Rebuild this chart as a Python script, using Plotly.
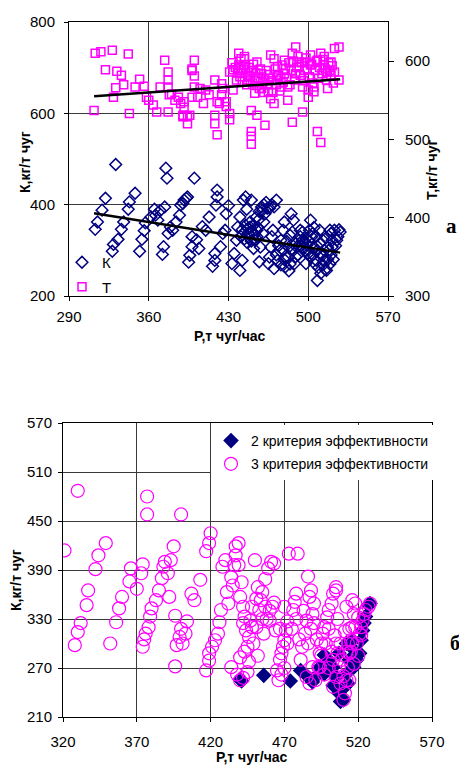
import plotly.graph_objects as go

# ---------------- Chart (a): K and T vs P ----------------
top_K_P = [313,315,319,322,328,329,333,331,336,338,342,343,348,352,354,356,357,362,365,366,368,370,372,373,374,375,376,377,379,381,384,387,388,390,391,393,394,395,396,398,398,400,402,404,407,410,413,416,418,418,419,420,420,423,425,427,428,430,433,435,437,438,440,440,442,443,445,446,447,449,450,452,453,455,456,457,458,460,461,462,464,465,466,467,468,469,470,472,473,475,476,478,479,480,482,483,484,485,487,488,489,490,492,493,495,496,498,500,501,502,504,505,507,508,510,511,513,514,516,517,519,520,521,523,525,527,
           441,442,444,445,446,447,448,449,450,451,452,453,454,455,456,457,459,460,461,463,466,468,487,489,491,493,494,495,496,497,498,499,500,501,502,503,504,505,506,507,508,509,510,511,512,513,514,515,516,517,518,519,520,521,522,524,526,528,470,472,474,476,478,479,481,483,485,486,484]
top_K_val = [346,362,388,414,298,313,324,488,346,362,390,406,425,298,324,343,360,373,390,377,366,387,291,308,395,480,458,337,351,344,362,377,399,403,410,414,417,274,289,330,308,458,323,304,352,344,373,265,278,293,399,417,432,308,337,344,380,398,271,293,322,351,373,256,278,410,417,390,337,351,410,304,322,344,366,275,307,337,362,380,392,271,285,307,330,344,395,410,278,300,322,344,362,264,286,307,333,380,366,271,286,307,322,344,322,304,271,293,344,366,337,307,278,234,344,293,322,278,256,307,344,337,322,344,322,345,
             330,345,325,355,318,348,328,362,320,340,355,335,372,330,350,385,395,388,400,405,392,400,300,315,290,330,310,340,318,298,326,312,300,320,285,330,290,350,270,330,300,262,315,250,288,268,300,258,328,280,300,270,290,308,280,310,330,340,260,290,310,268,300,280,320,255,300,340,270]

top_T_P = [313,318,328,342,322,332,336,338,331,329,312,343,348,352,356,358,360,364,367,374,377,377,377,377,370,378,380,383,386,388,390,390,391,391,394,394,396,398,398,400,400,400,398,403,405,408,410,413,418,418,418,420,420,422,424,424,425,428,428,431,431,431,434,434,437,439,439,439,441,441,444,444,444,447,447,450,450,450,450,450,453,453,455,455,455,459,459,462,462,465,465,467,467,470,470,473,473,476,476,479,479,482,482,486,486,489,489,492,492,495,495,497,497,500,500,502,502,505,505,508,508,511,511,514,514,517,517,520,520,523,523,527,527,
           433,436,438,440,442,443,445,446,448,449,451,452,454,456,457,458,460,461,463,464,466,468,469,471,472,474,475,477,478,480,481,483,484,485,487,488,490,491,493,494,496,498,499,501,503,504,506,507,509,510,512,513,515,516,518,519,521,522]
top_T_val = [610,612,614,609,589,587,582,570,566,554,537,533,567,577,568,554,550,544,535,601,586,576,567,535,567,557,558,550,554,546,531,529,541,548,529,520,531,588,590,601,581,567,554,554,565,546,563,557,576,531,520,506,548,546,557,571,565,548,542,533,525,586,589,563,576,610,595,591,603,588,606,603,595,576,582,537,510,504,494,588,576,559,531,599,569,565,584,576,518,561,578,552,608,603,546,576,593,578,567,601,584,567,550,522,610,584,618,599,593,567,535,599,588,554,563,595,608,567,561,510,601,610,496,595,606,586,565,599,582,586,616,618,576,
             598,592,585,580,574,590,585,570,592,580,572,596,585,578,565,590,572,560,588,570,583,575,560,590,570,582,562,595,573,590,578,598,570,588,600,576,592,606,582,598,575,604,590,580,596,572,588,600,578,592,584,602,590,576,598,588,594,572]

trend_P = [312, 528]
trend_K = [381, 295]
trend_T = [555, 577]

# ---------------- Chart (б): K vs P, 2 and 3 criteria ----------------
crit2_P = [440,441,456,474,481,486,489,497,497,503,505,507,508,510,511,512,514,515,516,519,521,522,523,524,525,527,528,507,512,503,500,494,491,513,517]
crit2_K = [256,254,261,254,267,259,253,263,286,249,259,239,229,231,247,263,280,296,304,280,288,304,316,325,333,347,349,288,300,271,280,271,259,251,271]

crit3_P = [321,330,328,330,332,336,337,342,344,349,352,356,358,360,366,365,370,373,374,374,375,377,377,376,378,379,380,383,385,387,388,389,391,392,393,395,396,396,397,399,400,400,401,403,404,407,409,413,417,417,419,419,420,419,421,423,425,426,427,428,430,431,432,434,434,435,436,437,437,439,439,440,441,442,442,443,444,445,446,447,448,450,451,452,453,454,455,456,457,459,460,461,462,463,464,465,466,467,468,469,470,471,472,473,476,477,478,479,481,482,484,485,486,487,488,489,490,491,493,494,495,496,497,499,500,502,503,505,505,506,507,508,510,511,512,513,514,515,516,517,518,520,521,522,523,524,525,527,528,512,516,503,505,514,494,489,485,487,
           440,443,446,449,452,458,460,463,467,470,472,475,478,480,483,486,488,490,492,495,498,500,502,504,506,508,509,511,513,515,517,519,520,522,497,500,503,505,510,512,514,516,518,470,468,445,442,440,438,455,457,451,448]
crit3_K = [414,487,298,314,325,347,365,391,408,423,300,326,343,357,392,376,367,386,397,296,305,480,458,312,320,333,343,353,365,380,394,400,386,357,402,419,334,272,298,308,318,458,300,312,327,361,353,378,267,413,279,423,435,288,296,304,312,326,341,394,402,363,349,381,271,371,396,408,419,423,396,357,375,345,325,333,316,296,308,328,345,402,355,369,341,353,363,312,379,392,328,400,345,398,316,267,255,280,288,296,304,316,327,410,341,351,361,410,280,296,312,328,382,357,365,336,349,255,271,288,300,312,320,332,341,349,361,369,365,288,271,251,231,239,255,271,288,304,320,336,349,332,312,320,328,336,341,345,349,345,353,247,259,255,271,271,259,251,
           283,290,278,300,285,330,340,350,318,345,300,318,330,305,340,300,318,325,305,285,300,318,290,310,330,300,280,315,300,290,275,300,285,310,262,270,280,300,260,290,318,300,320,270,262,265,258,255,262,330,345,320,320]

NAVY = "#000080"
MAG = "#FF00FF"
GRID = "#3a3a3a"
FONT = "Liberation Sans, Arial, sans-serif"
SERIF = "Liberation Serif, Times New Roman, serif"

fig = go.Figure()

# chart (a)
fig.add_trace(go.Scatter(x=top_K_P, y=top_K_val, mode="markers", name="К",
                         marker=dict(symbol="diamond-open", size=9, color=NAVY, line=dict(width=1.5, color=NAVY)),
                         xaxis="x", yaxis="y", legend="legend", legendgroup="a1"))
fig.add_trace(go.Scatter(x=top_T_P, y=top_T_val, mode="markers", name="Т",
                         marker=dict(symbol="square-open", size=8, color=MAG, line=dict(width=1.5, color=MAG)),
                         xaxis="x", yaxis="y3", legend="legend", legendgroup="a2"))
fig.add_trace(go.Scatter(x=trend_P, y=trend_K, mode="lines", line=dict(color="black", width=2.5),
                         showlegend=False, xaxis="x", yaxis="y", hoverinfo="skip"))
fig.add_trace(go.Scatter(x=trend_P, y=trend_T, mode="lines", line=dict(color="black", width=2.5),
                         showlegend=False, xaxis="x", yaxis="y3", hoverinfo="skip"))

# chart (б)
fig.add_trace(go.Scatter(x=crit2_P, y=crit2_K, mode="markers", name="2 критерия эффективности",
                         marker=dict(symbol="diamond", size=12, color=NAVY, line=dict(width=0)),
                         xaxis="x2", yaxis="y2", legend="legend2", legendgroup="b1"))
fig.add_trace(go.Scatter(x=crit3_P, y=crit3_K, mode="markers", name="3 критерия эффективности",
                         marker=dict(symbol="circle-open", size=13, color=MAG, line=dict(width=1.2, color=MAG)),
                         xaxis="x2", yaxis="y2", legend="legend2", legendgroup="b2"))

# the page body has an 8px margin, so the figure is 8px smaller and all page
# positions are offset by 8px
OFF = 8
W, H = 467 - OFF, 767 - OFF
def px_x(p): return (p - OFF) / W
def px_y(p): return 1 - (p - OFF) / H

axis_common = dict(showline=True, linecolor="black", linewidth=1, ticks="outside",
                   tickcolor="black", zeroline=False, gridcolor=GRID, gridwidth=1, automargin=False,
                   tickfont=dict(family=FONT, size=15, color="black"))

fig.update_layout(
    width=W, height=H,
    autosize=False,
    margin=dict(l=0, r=0, t=0, b=0, pad=0, autoexpand=False),
    paper_bgcolor="white", plot_bgcolor="white",
    font=dict(family=FONT, color="black"),
    xaxis=dict(domain=[px_x(69), px_x(388)], range=[290, 570], tick0=290, dtick=70, ticklen=4,
               anchor="y", mirror=True, showgrid=True, ticklabelstandoff=3, **axis_common),
    yaxis=dict(domain=[px_y(296), px_y(22)], range=[200, 800], tick0=200, dtick=200, ticklen=4,
               anchor="x", showgrid=True, ticklabelstandoff=6, **axis_common),
    yaxis3=dict(overlaying="y", side="right", range=[300, 650], tickvals=[300, 400, 500, 600],
                anchor="x", showgrid=False, ticklabelstandoff=8, ticklen=5, **axis_common),
    xaxis2=dict(domain=[px_x(63), px_x(432)], range=[320, 570], tick0=320, dtick=50, ticklen=4,
                anchor="y2", mirror=True, showgrid=True, ticklabelstandoff=7, **axis_common),
    yaxis2=dict(domain=[px_y(717), px_y(423)], range=[210, 570], tick0=210, dtick=60, ticklen=4,
                anchor="x2", mirror=True, showgrid=True, ticklabelstandoff=3, **axis_common),
    legend=dict(x=px_x(62), y=px_y(246), xanchor="left", yanchor="top",
                bgcolor="rgba(0,0,0,0)", font=dict(family=FONT, size=15, color="black"),
                tracegroupgap=2, itemwidth=30),
    legend2=dict(x=px_x(211), y=px_y(425), xanchor="left", yanchor="top",
                 bgcolor="white", font=dict(family=FONT, size=14, color="black"),
                 tracegroupgap=2, itemwidth=30),
    showlegend=True,
)

ann = []
ann.append(dict(text="<b>К,кг/т чуг</b>", x=px_x(25), y=px_y(162), textangle=-90,
                font=dict(family=FONT, size=14, color="black")))
ann.append(dict(text="<b>Т,кг/т чуг</b>", x=px_x(432), y=px_y(170), textangle=-90,
                font=dict(family=FONT, size=14, color="black")))
ann.append(dict(text="<b>Р,т чуг/час</b>", x=px_x(230), y=px_y(336),
                font=dict(family=FONT, size=14, color="black")))
ann.append(dict(text="<b>а</b>", x=px_x(451), y=px_y(226),
                font=dict(family=SERIF, size=21, color="black")))
ann.append(dict(text="<b>К,кг/т чуг</b>", x=px_x(16), y=px_y(580), textangle=-90,
                font=dict(family=FONT, size=14, color="black")))
ann.append(dict(text="<b>Р,т чуг/час</b>", x=px_x(252), y=px_y(757),
                font=dict(family=FONT, size=14, color="black")))
ann.append(dict(text="<b>б</b>", x=px_x(455), y=px_y(643),
                font=dict(family=SERIF, size=20, color="black")))
for a in ann:
    a.update(xref="paper", yref="paper", showarrow=False, xanchor="center", yanchor="middle")
fig.update_layout(annotations=ann)

fig.write_html("out.html")
